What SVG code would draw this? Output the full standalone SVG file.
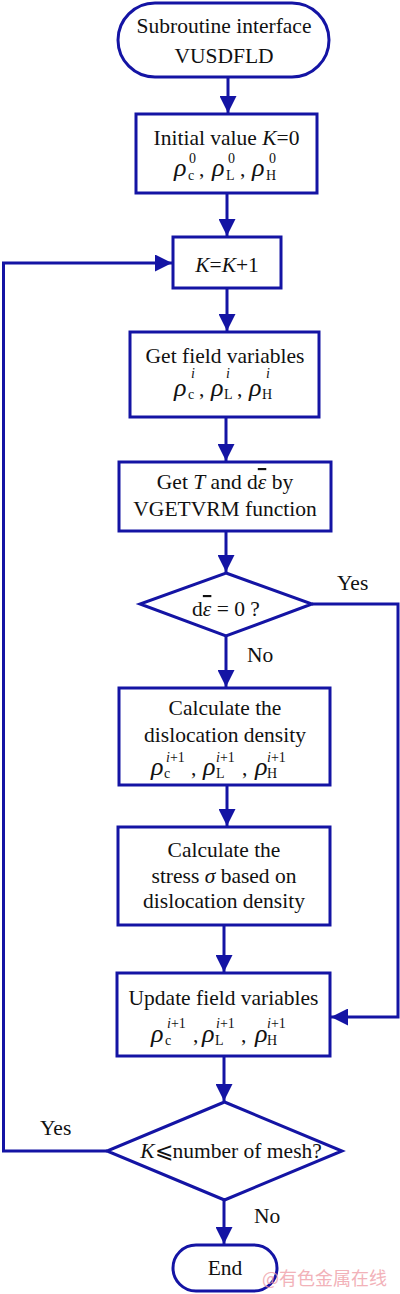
<svg xmlns="http://www.w3.org/2000/svg" width="400" height="1294" viewBox="0 0 400 1294">
<style>
.s{fill:#fff;stroke:#1414a4;stroke-width:3}
.c{fill:none;stroke:#1414a4;stroke-width:3}
.h{fill:#1414a4;stroke:none}
text{font-family:"Liberation Serif","Times New Roman",serif;fill:#111}
.t{font-size:21.5px;text-anchor:middle}
.l{font-size:21.5px}
.r{font-size:26px;font-style:italic}
.sb{font-size:14px}
.sp{font-size:14px}
.i{font-style:italic}
.ob{text-decoration:overline}
</style>
<defs>
<marker id="a" viewBox="0 0 10 10" refX="10" refY="5" markerWidth="17" markerHeight="17" markerUnits="userSpaceOnUse" orient="auto">
<path d="M0,0 L10,5 L0,10 Z" class="h"/>
</marker>
</defs>
<rect width="400" height="1294" fill="#fff"/>
<g id="connectors">
<line class="c" x1="228" y1="77" x2="228" y2="113" marker-end="url(#a)"/>
<line class="c" x1="227" y1="193" x2="227" y2="236" marker-end="url(#a)"/>
<line class="c" x1="227" y1="288" x2="227" y2="331" marker-end="url(#a)"/>
<line class="c" x1="226" y1="417" x2="226" y2="461" marker-end="url(#a)"/>
<line class="c" x1="226" y1="531" x2="226" y2="572" marker-end="url(#a)"/>
<line class="c" x1="226" y1="636" x2="226" y2="687" marker-end="url(#a)"/>
<line class="c" x1="227" y1="785" x2="227" y2="826" marker-end="url(#a)"/>
<line class="c" x1="224" y1="925" x2="224" y2="972" marker-end="url(#a)"/>
<line class="c" x1="224" y1="1056" x2="224" y2="1101" marker-end="url(#a)"/>
<line class="c" x1="224" y1="1200" x2="224" y2="1244" marker-end="url(#a)"/>
<polyline class="c" points="312,604 398,604 398,1017 331,1017" marker-end="url(#a)"/>
<polyline class="c" points="107,1151 3.5,1151 3.5,263 172,263" marker-end="url(#a)"/>
<text class="l" x="337" y="590">Yes</text>
<text class="l" x="247" y="662">No</text>
<text class="l" x="40" y="1135">Yes</text>
<text class="l" x="254" y="1223">No</text>
</g>
<g id="start">
<rect class="s" x="118" y="3" width="211" height="74" rx="37" ry="37"/>
<text class="t" x="224" y="33">Subroutine interface</text>
<text class="t" x="224" y="63">VUSDFLD</text>
</g>
<g id="init">
<rect class="s" x="136" y="114" width="181" height="79"/>
<text class="t" x="226.5" y="145">Initial value <tspan class="i">K</tspan>=0</text>
<text class="r" x="174" y="176">ρ</text><text class="sb" x="188" y="180">c</text><text class="sp" x="189" y="163">0</text><text class="l" x="199" y="176">,</text>
<text class="r" x="212" y="176">ρ</text><text class="sb" x="226" y="180">L</text><text class="sp" x="228" y="163">0</text><text class="l" x="240" y="176">,</text>
<text class="r" x="252" y="176">ρ</text><text class="sb" x="266" y="180">H</text><text class="sp" x="269" y="163">0</text>
</g>
<g id="inc">
<rect class="s" x="173" y="237" width="108" height="51"/>
<text class="t" x="227" y="272"><tspan class="i">K</tspan>=<tspan class="i">K</tspan>+1</text>
</g>
<g id="get">
<rect class="s" x="130" y="332" width="189" height="85"/>
<text class="t" x="225" y="363">Get field variables</text>
<text class="r" x="174" y="396">ρ</text><text class="sb" x="188" y="399">c</text><text class="sp i" x="191" y="378">i</text><text class="l" x="199" y="396">,</text>
<text class="r" x="211" y="396">ρ</text><text class="sb" x="224" y="399">L</text><text class="sp i" x="226" y="378">i</text><text class="l" x="237" y="396">,</text>
<text class="r" x="249" y="396">ρ</text><text class="sb" x="262" y="399">H</text><text class="sp i" x="266" y="378">i</text>
</g>
<g id="getT">
<rect class="s" x="119" y="462" width="212" height="69"/>
<text class="t" x="225" y="489">Get <tspan class="i">T</tspan> and d<tspan class="i ob">ε</tspan> by</text>
<text class="t" x="225" y="516">VGETVRM function</text>
</g>
<g id="dec1">
<polygon class="s" points="226,573 312,604 226,636 140,604"/>
<text class="t" x="226" y="616">d<tspan class="i ob">ε</tspan> = 0 ?</text>
</g>
<g id="calc1">
<rect class="s" x="119" y="688" width="211" height="97"/>
<text class="t" x="225" y="715">Calculate the</text>
<text class="t" x="225" y="742">dislocation density</text>
<text class="r" x="151" y="775">ρ</text><text class="sb" x="164" y="778">c</text><text class="sp" x="166" y="762"><tspan class="i">i</tspan>+1</text><text class="l" x="191" y="775">,</text>
<text class="r" x="203" y="775">ρ</text><text class="sb" x="216" y="778">L</text><text class="sp" x="216" y="762"><tspan class="i">i</tspan>+1</text><text class="l" x="242" y="775">,</text>
<text class="r" x="255" y="775">ρ</text><text class="sb" x="267" y="778">H</text><text class="sp" x="267" y="762"><tspan class="i">i</tspan>+1</text>
</g>
<g id="calc2">
<rect class="s" x="118" y="827" width="212" height="98"/>
<text class="t" x="224" y="857">Calculate the</text>
<text class="t" x="224" y="883">stress <tspan class="i">σ</tspan> based on</text>
<text class="t" x="224" y="908">dislocation density</text>
</g>
<g id="update">
<rect class="s" x="117" y="973" width="213" height="83"/>
<text class="t" x="223.5" y="1005">Update field variables</text>
<text class="r" x="151" y="1042">ρ</text><text class="sb" x="165" y="1045">c</text><text class="sp" x="167" y="1028"><tspan class="i">i</tspan>+1</text><text class="l" x="193" y="1042">,</text>
<text class="r" x="202" y="1042">ρ</text><text class="sb" x="215" y="1045">L</text><text class="sp" x="216" y="1028"><tspan class="i">i</tspan>+1</text><text class="l" x="241" y="1042">,</text>
<text class="r" x="255" y="1042">ρ</text><text class="sb" x="267" y="1045">H</text><text class="sp" x="267" y="1028"><tspan class="i">i</tspan>+1</text>
</g>
<g id="dec2">
<polygon class="s" points="224.5,1102 342,1151 224.5,1200 107,1151"/>
<text class="t" x="231" y="1158"><tspan class="i">K</tspan>⩽number of mesh?</text>
</g>
<g id="end">
<rect class="s" x="173" y="1245" width="104" height="46" rx="23" ry="23"/>
<text class="t" x="225" y="1275">End</text>
</g>
<text x="262" y="1285" style="font-family:'Noto Sans CJK SC',sans-serif;font-size:18px;fill:#f0a0a8;opacity:0.8">@有色金属在线</text>
</svg>
